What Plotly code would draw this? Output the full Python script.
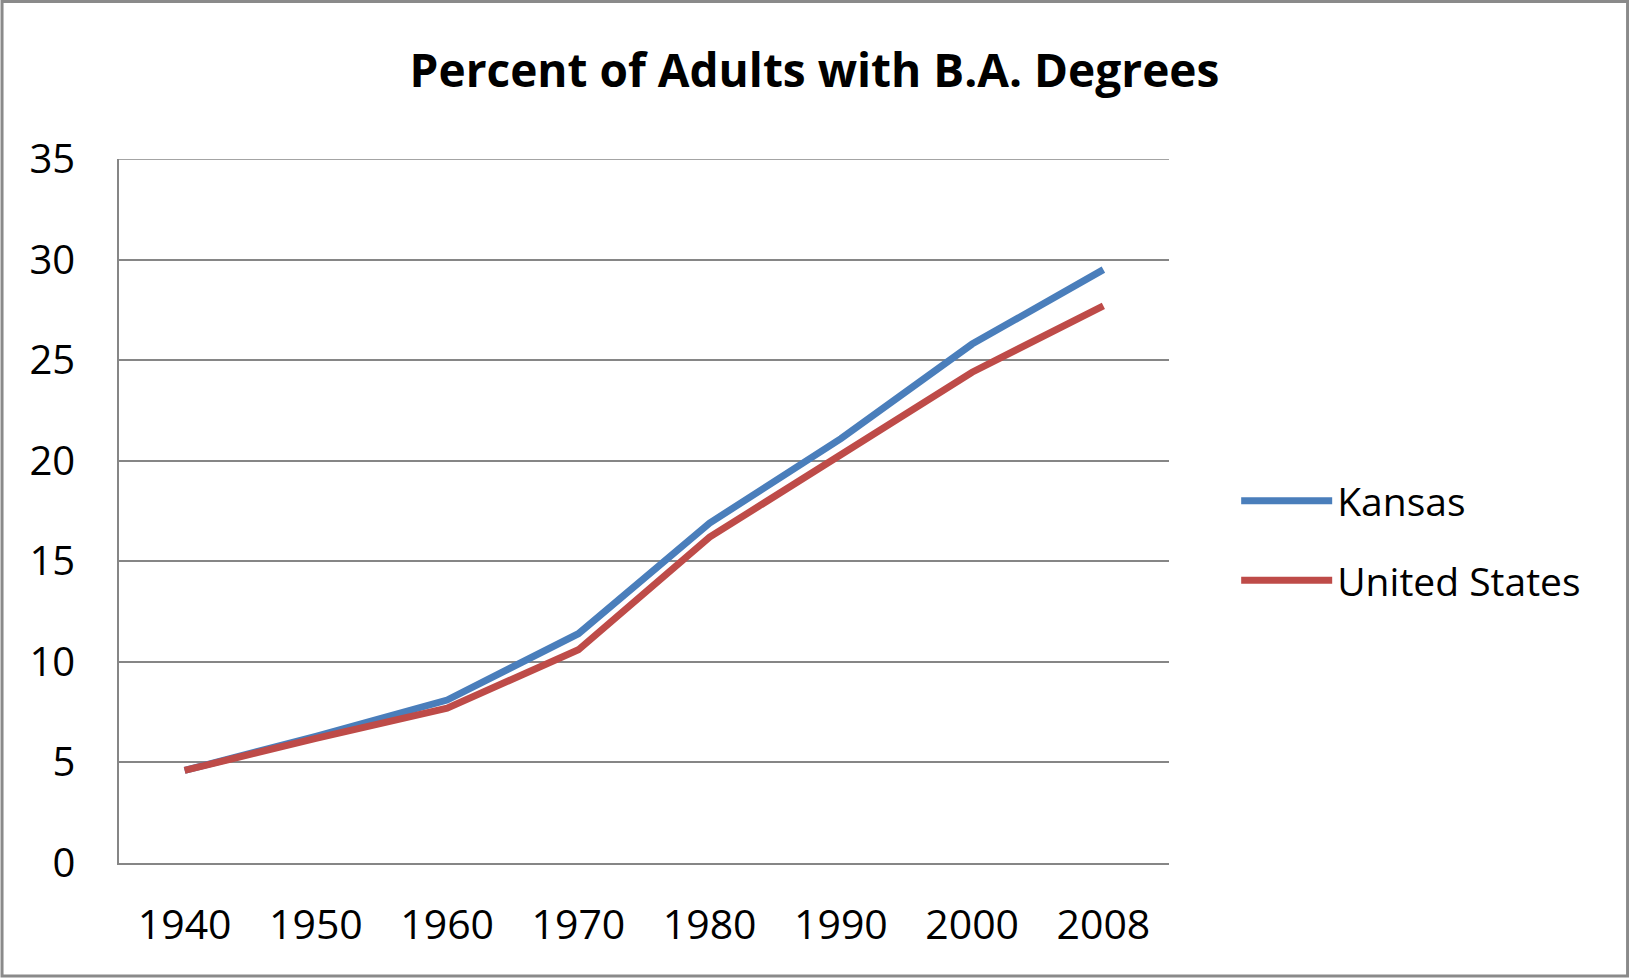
import plotly.graph_objects as go

years = ["1940", "1950", "1960", "1970", "1980", "1990", "2000", "2008"]
kansas = [4.6, 6.3, 8.1, 11.4, 16.9, 21.1, 25.8, 29.5]
united_states = [4.6, 6.2, 7.7, 10.6, 16.2, 20.3, 24.4, 27.7]
y_ticks = [0, 5, 10, 15, 20, 25, 30, 35]

W, H = 1629, 978
L, R, T, B = 118.5, 1168.8, 159, 863.4
pw, ph = R - L, B - T

FONT = "Open Sans"
GRID = "#868686"

fig = go.Figure()
fig.add_trace(go.Scatter(x=years, y=kansas, mode="lines", name="Kansas",
                         line=dict(color="#4A7EBB", width=7), legendgroup="a"))
fig.add_trace(go.Scatter(x=years, y=united_states, mode="lines", name="United States",
                         line=dict(color="#BE4B48", width=7), legendgroup="b"))

fig.update_layout(
    width=W, height=H,
    margin=dict(l=L, r=W - R, t=T, b=H - B, autoexpand=False),
    paper_bgcolor="white", plot_bgcolor="white",
    title=dict(text="<b>Percent of Adults with B.A. Degrees</b>", x=814.5 / W, xanchor="center",
               y=1 - 71 / H, yanchor="middle", font=dict(family=FONT, size=46, color="black")),
    font=dict(family=FONT, size=40, color="black"),
    showlegend=True,
    legend=dict(x=(1236 - L) / pw, xanchor="left", y=(B - 469) / ph, yanchor="top",
                font=dict(family=FONT, size=39, color="black"), tracegroupgap=26,
                itemwidth=91, bgcolor="rgba(0,0,0,0)"),
    xaxis=dict(type="category", categoryorder="array", categoryarray=years,
               range=[-0.5, 7.5], showgrid=False, showline=True, linecolor=GRID, linewidth=1.5,
               ticks="", tickfont=dict(family=FONT, size=41, color="black"), ticklabelstandoff=25,
               fixedrange=True),
    yaxis=dict(range=[0, 35], tickvals=y_ticks, showgrid=True, gridcolor=GRID, gridwidth=1.5,
               showline=True, linecolor=GRID, linewidth=1.5, zeroline=False, ticks="",
               tickfont=dict(family=FONT, size=40, color="black"), ticklabelstandoff=34,
               fixedrange=True),
    shapes=[dict(type="rect", xref="paper", yref="paper",
                 x0=(1.5 - L) / pw, x1=(W - 1.5 - L) / pw,
                 y0=(B - (H - 1.5)) / ph, y1=(B - 1.5) / ph,
                 line=dict(color="#8a8a8a", width=3), fillcolor="rgba(0,0,0,0)", layer="below"),
            dict(type="line", xref="paper", yref="y", x0=0, x1=1, y0=y_ticks[-1], y1=y_ticks[-1],
                 line=dict(color=GRID, width=1.5), layer="below")],
)

fig.write_html("out.html", config={"displayModeBar": False},
               post_script="document.body.style.margin='0';document.body.style.overflow='hidden';")
